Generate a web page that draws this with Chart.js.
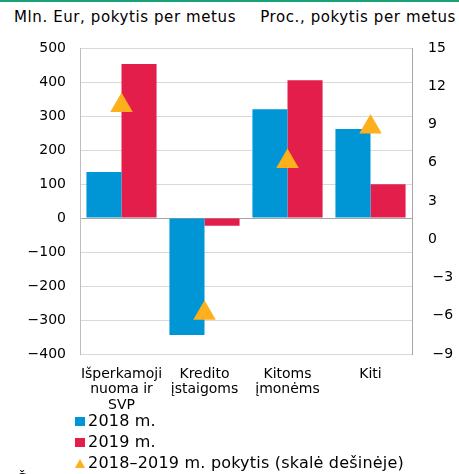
<!DOCTYPE html>
<html>
<head>
<meta charset="utf-8">
<script src="https://cdn.jsdelivr.net/npm/chart.js@4/dist/chart.umd.min.js"></script>
<style>
  body { margin: 0; background: #fff; font-family: "DejaVu Sans", Verdana, sans-serif; }
  #wrap { position: relative; width: 459px; height: 474px; overflow: hidden; }
  #topline { position: absolute; left: 0; top: 0; width: 459px; height: 2px; background: #17a27a; }
  .ttl { position: absolute; top: 8px; font-size: 15px; letter-spacing: 0.6px; color: #000; white-space: nowrap; }
  #chart { position: absolute; left: 0; top: 0; }
  #legend { position: absolute; left: 75px; top: 410px; font-size: 16px; letter-spacing: 0.2px; color: #000; }
  .item { height: 21px; line-height: 21px; white-space: nowrap; }
  .sq { display: inline-block; width: 10px; height: 9px; margin-right: 3px; vertical-align: 0px; }
  .tri { display: inline-block; width: 0; height: 0; border-left: 5px solid transparent; border-right: 5px solid transparent;
         border-bottom: 9px solid #fdaf1c; margin-right: 3px; vertical-align: 0px; }
  #cut { position: absolute; left: 17px; top: 470px; font-size: 16px; }
</style>
</head>
<body>
<div id="wrap">
  <div id="topline"></div>
  <div class="ttl" style="left:14px">Mln. Eur, pokytis per metus</div>
  <div class="ttl" style="right:3px">Proc., pokytis per metus</div>
  <canvas id="chart" width="459" height="412"></canvas>
  <div id="legend">
    <div class="item"><span class="sq" style="background:#0096d6"></span>2018 m.</div>
    <div class="item"><span class="sq" style="background:#e31e4b"></span>2019 m.</div>
    <div class="item"><span class="tri"></span>2018–2019 m. pokytis (skalė dešinėje)</div>
  </div>
  <div id="cut">Š</div>
</div>
<script>
// duomenys
const kategorijos = [['Išperkamoji', 'nuoma ir', 'SVP'], ['Kredito', 'įstaigoms'], ['Kitoms', 'įmonėms'], ['Kiti']];
const metai2018 = [135, -344, 320, 262];
const metai2019 = [453, -23, 405, 99];
const pokytis = [10.5, -5.8, 6.1, 8.8];

const minus = v => (v < 0 ? ' \u2212' + Math.abs(v) : String(v));

const ctx = document.getElementById('chart').getContext('2d');

window.grafikas = new Chart(ctx, {
    data: {
        labels: kategorijos,
        datasets: [
            {
                type: 'line',
                label: '2018–2019 m. pokytis (skalė dešinėje)',
                data: pokytis,
                yAxisID: 'y2',
                showLine: false,
                pointStyle: 'triangle',
                pointRadius: 13,
                pointHoverRadius: 13,
                pointBorderWidth: 0,
                pointBackgroundColor: '#fdaf1c',
                borderColor: '#fdaf1c',
                order: 0
            },
            {
                type: 'bar',
                label: '2018 m.',
                data: metai2018,
                yAxisID: 'y',
                backgroundColor: '#0096d6',
                borderWidth: 0,
                categoryPercentage: 0.845,
                barPercentage: 1,
                order: 1
            },
            {
                type: 'bar',
                label: '2019 m.',
                data: metai2019,
                yAxisID: 'y',
                backgroundColor: '#e31e4b',
                borderWidth: 0,
                categoryPercentage: 0.845,
                barPercentage: 1,
                order: 1
            }
        ]
    },
    options: {
        responsive: false,
        animation: false,
        layout: { padding: { top: 48, left: 0, right: 0, bottom: 0 } },
        plugins: {
            legend: { display: false },
            tooltip: { enabled: false }
        },
        scales: {
            x: {
                grid: { display: false },
                border: { display: false },
                ticks: {
                    color: '#000',
                    font: { family: 'DejaVu Sans', size: 14, lineHeight: 1.13 },
                    padding: 4,
                    maxRotation: 0,
                    autoSkip: false
                },
                afterFit: s => { s.height = 58; }
            },
            y: {
                position: 'left',
                min: -400,
                max: 500,
                ticks: {
                    stepSize: 100,
                    color: '#000',
                    font: { family: 'DejaVu Sans', size: 14 },
                    padding: 14,
                    callback: v => minus(v).trim()
                },
                grid: {
                    drawTicks: false,
                    color: c => (c.tick && c.tick.value === 0 ? '#a6a6a6' : '#d9d9d9')
                },
                border: { color: '#bdbdbd' },
                afterFit: s => { s.width = 80; }
            },
            y2: {
                position: 'right',
                min: -9,
                max: 15,
                ticks: {
                    stepSize: 3,
                    color: '#000',
                    font: { family: 'DejaVu Sans', size: 14 },
                    padding: 16,
                    callback: v => minus(v)
                },
                grid: { display: false, drawTicks: false },
                border: { color: '#a6a6a6' },
                afterFit: s => { s.width = 47; }
            }
        }
    }
});
</script>
</body>
</html>
